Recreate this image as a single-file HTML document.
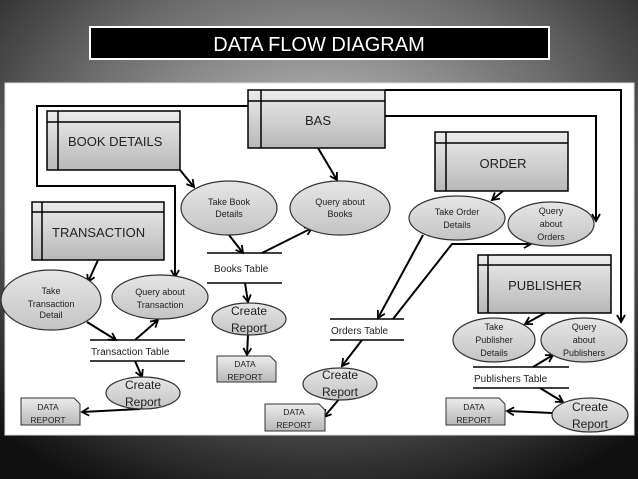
<!DOCTYPE html>
<html><head><style>
html,body{margin:0;padding:0;width:638px;height:479px;overflow:hidden;background:#000;}
</style></head><body>
<svg width="638" height="479" viewBox="0 0 638 479" xmlns="http://www.w3.org/2000/svg" font-family="Liberation Sans, sans-serif">
<defs>
<radialGradient id="bg" cx="0.5" cy="0.35" r="0.75">
<stop offset="0" stop-color="#c8c8c8"/><stop offset="0.55" stop-color="#6a6a6a"/><stop offset="1" stop-color="#101010"/>
</radialGradient>
<linearGradient id="box" x1="0" y1="0" x2="0" y2="1">
<stop offset="0" stop-color="#ececec"/><stop offset="1" stop-color="#b8b8b8"/>
</linearGradient>
<linearGradient id="ell" x1="0" y1="0" x2="0" y2="1">
<stop offset="0" stop-color="#e6e6e6"/><stop offset="1" stop-color="#c4c4c4"/>
</linearGradient>
<marker id="a" markerWidth="10" markerHeight="10" refX="8" refY="5" orient="auto" markerUnits="userSpaceOnUse">
<path d="M1,1 L8,5 L1,9" fill="none" stroke="#000" stroke-width="1.8"/>
</marker>
</defs>
<rect width="638" height="479" fill="url(#bg)"/>
<rect x="90" y="27" width="459" height="32" fill="#000" stroke="#fff" stroke-width="2"/>
<text x="319" y="51" font-size="20" fill="#fff" text-anchor="middle">DATA FLOW DIAGRAM</text>
<rect x="5" y="83" width="629" height="352" fill="#fff" stroke="#ddd"/>

<g stroke="#000" stroke-width="2" fill="none">
<polyline points="248,106 37,106 37,186 175,186 175,277" marker-end="url(#a)"/>
<polyline points="385,90 621,90 621,322" marker-end="url(#a)"/>
<polyline points="385,116 596,116 596,221" marker-end="url(#a)"/>
<line x1="318" y1="148" x2="337" y2="180" marker-end="url(#a)"/>
<line x1="180" y1="170" x2="194" y2="187" marker-end="url(#a)"/>
<line x1="229" y1="235" x2="243" y2="253" marker-end="url(#a)"/>
<line x1="262" y1="253" x2="312" y2="228" marker-end="url(#a)"/>
<line x1="245" y1="283" x2="248" y2="302" marker-end="url(#a)"/>
<line x1="248" y1="335" x2="247" y2="355" marker-end="url(#a)"/>
<line x1="98" y1="260" x2="88" y2="282" marker-end="url(#a)"/>
<line x1="87" y1="322" x2="116" y2="340" marker-end="url(#a)"/>
<line x1="135" y1="340" x2="158" y2="320" marker-end="url(#a)"/>
<line x1="135" y1="361" x2="142" y2="377" marker-end="url(#a)"/>
<line x1="140" y1="409" x2="82" y2="412" marker-end="url(#a)"/>
<line x1="503" y1="191" x2="492" y2="200" marker-end="url(#a)"/>
<line x1="423" y1="235" x2="378" y2="318" marker-end="url(#a)"/>
<polyline points="393,319 452,244 531,244" marker-end="url(#a)"/>
<line x1="362" y1="340" x2="342" y2="366" marker-end="url(#a)"/>
<line x1="340" y1="398" x2="324" y2="417" marker-end="url(#a)"/>
<line x1="545" y1="313" x2="525" y2="324" marker-end="url(#a)"/>
<line x1="533" y1="367" x2="553" y2="355" marker-end="url(#a)"/>
<line x1="540" y1="388" x2="563" y2="402" marker-end="url(#a)"/>
<line x1="552" y1="413" x2="507" y2="411" marker-end="url(#a)"/>
</g>

<g stroke="#000" stroke-width="1.5" fill="url(#box)">
<rect x="248" y="90" width="137" height="58"/><line x1="248" y1="101" x2="385" y2="101"/><line x1="261" y1="90" x2="261" y2="148"/>
<rect x="47" y="111" width="133" height="59"/><line x1="47" y1="122" x2="180" y2="122"/><line x1="58" y1="111" x2="58" y2="170"/>
<rect x="32" y="202" width="132" height="58"/><line x1="32" y1="212" x2="164" y2="212"/><line x1="42" y1="202" x2="42" y2="260"/>
<rect x="435" y="132" width="133" height="59"/><line x1="435" y1="143" x2="568" y2="143"/><line x1="446" y1="132" x2="446" y2="191"/>
<rect x="478" y="255" width="133" height="58"/><line x1="478" y1="265" x2="611" y2="265"/><line x1="488" y1="255" x2="488" y2="313"/>
</g>
<g font-size="13" fill="#222">
<text x="318" y="125" text-anchor="middle">BAS</text>
<text x="68" y="146">BOOK DETAILS</text>
<text x="52" y="237">TRANSACTION</text>
<text x="503" y="168" text-anchor="middle">ORDER</text>
<text x="545" y="290" text-anchor="middle">PUBLISHER</text>
</g>

<g stroke="#333" stroke-width="1.2" fill="url(#ell)">
<ellipse cx="229" cy="208" rx="48" ry="27"/>
<ellipse cx="340" cy="208" rx="50" ry="27"/>
<ellipse cx="457" cy="218" rx="48" ry="22"/>
<ellipse cx="551" cy="224" rx="43" ry="22"/>
<ellipse cx="51" cy="300" rx="50" ry="30"/>
<ellipse cx="160" cy="297" rx="48" ry="22"/>
<ellipse cx="249" cy="319" rx="37" ry="16"/>
<ellipse cx="143" cy="393" rx="37" ry="16"/>
<ellipse cx="340" cy="384" rx="37" ry="16"/>
<ellipse cx="494" cy="340" rx="41" ry="22"/>
<ellipse cx="584" cy="340" rx="43" ry="22"/>
<ellipse cx="590" cy="415" rx="38" ry="17"/>
</g>
<g font-size="9" fill="#222" text-anchor="middle">
<text x="229" y="205">Take Book</text><text x="229" y="217">Details</text>
<text x="340" y="205">Query about</text><text x="340" y="217">Books</text>
<text x="457" y="215">Take Order</text><text x="457" y="228">Details</text>
<text x="551" y="214">Query</text><text x="551" y="227">about</text><text x="551" y="240">Orders</text>
<text x="51" y="294">Take</text><text x="51" y="307">Transaction</text><text x="51" y="318">Detail</text>
<text x="160" y="295">Query about</text><text x="160" y="308">Transaction</text>
<text x="494" y="330">Take</text><text x="494" y="343">Publisher</text><text x="494" y="356">Details</text>
<text x="584" y="330">Query</text><text x="584" y="343">about</text><text x="584" y="356">Publishers</text>
</g>
<g font-size="12" fill="#222" text-anchor="middle">
<text x="249" y="315">Create</text><text x="249" y="332">Report</text>
<text x="143" y="389">Create</text><text x="143" y="406">Report</text>
<text x="340" y="379">Create</text><text x="340" y="396">Report</text>
<text x="590" y="411">Create</text><text x="590" y="428">Report</text>
</g>

<g stroke="#000" stroke-width="1.5">
<line x1="207" y1="253" x2="282" y2="253"/><line x1="207" y1="283" x2="282" y2="283"/>
<line x1="90" y1="340" x2="185" y2="340"/><line x1="90" y1="361" x2="185" y2="361"/>
<line x1="330" y1="319" x2="404" y2="319"/><line x1="330" y1="340" x2="404" y2="340"/>
<line x1="473" y1="367" x2="569" y2="367"/><line x1="473" y1="388" x2="569" y2="388"/>
</g>
<g font-size="10" fill="#222">
<text x="214" y="272">Books Table</text>
<text x="91" y="355">Transaction Table</text>
<text x="331" y="334">Orders Table</text>
<text x="474" y="382">Publishers Table</text>
</g>

<g stroke="#333" stroke-width="1" fill="url(#box)">
<path d="M217,356 H270 L276,362 V382 H217 Z"/>
<path d="M21,398 H74 L80,404 V425 H21 Z"/>
<path d="M265,404 H319 L325,410 V431 H265 Z"/>
<path d="M446,398 H499 L505,404 V425 H446 Z"/>
</g>
<g font-size="8.5" fill="#222" text-anchor="middle">
<text x="245" y="367">DATA</text><text x="245" y="380">REPORT</text>
<text x="48" y="410">DATA</text><text x="48" y="423">REPORT</text>
<text x="294" y="415">DATA</text><text x="294" y="428">REPORT</text>
<text x="474" y="410">DATA</text><text x="474" y="423">REPORT</text>
</g>
</svg>
</body></html>
